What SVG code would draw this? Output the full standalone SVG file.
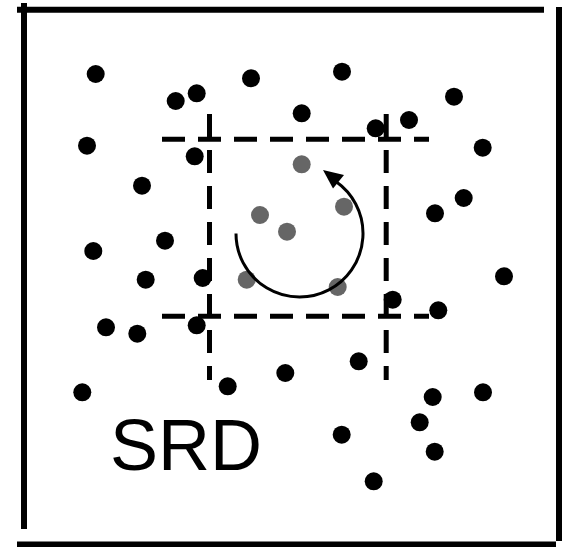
<svg xmlns="http://www.w3.org/2000/svg" width="562" height="547" viewBox="0 0 562 547">
<style>
.frame{stroke:#000;stroke-width:6;fill:none}
.grid{stroke:#000;stroke-width:5;fill:none;stroke-dasharray:23 13}
.b{fill:#000}
.g{fill:#666}
.lbl{font-family:"Liberation Sans",Arial,sans-serif;font-size:72px;fill:#000}
</style>
<rect width="562" height="547" fill="#fff"/>
<g id="frame">
<line class="frame" x1="17" y1="9.7" x2="544" y2="9.7"/>
<line class="frame" x1="24" y1="3" x2="24" y2="529"/>
<line class="frame" x1="559" y1="7" x2="559" y2="541"/>
<line class="frame" x1="17" y1="544.5" x2="556" y2="544.5"/>
</g>
<g id="grid">
<line class="grid" x1="162" y1="139.2" x2="429" y2="139.2"/>
<line class="grid" x1="162" y1="316.3" x2="429" y2="316.3"/>
<line class="grid" x1="209.5" y1="114" x2="209.5" y2="380"/>
<line class="grid" x1="386.2" y1="114" x2="386.2" y2="380"/>
</g>
<g id="black-dots">
<circle class="b" cx="95.7" cy="74" r="9"/>
<circle class="b" cx="251" cy="78.3" r="9"/>
<circle class="b" cx="196.7" cy="93.3" r="9"/>
<circle class="b" cx="175.7" cy="101" r="9"/>
<circle class="b" cx="87" cy="145.7" r="9"/>
<circle class="b" cx="194.7" cy="156.3" r="9"/>
<circle class="b" cx="142" cy="185.7" r="9"/>
<circle class="b" cx="165" cy="240.7" r="9"/>
<circle class="b" cx="93.3" cy="251" r="9"/>
<circle class="b" cx="342" cy="71.7" r="9"/>
<circle class="b" cx="301.7" cy="113.3" r="9"/>
<circle class="b" cx="454" cy="96.7" r="9"/>
<circle class="b" cx="409" cy="120" r="9"/>
<circle class="b" cx="375.7" cy="128.3" r="9"/>
<circle class="b" cx="482.7" cy="147.7" r="9"/>
<circle class="b" cx="463.7" cy="198" r="9"/>
<circle class="b" cx="435" cy="213.3" r="9"/>
<circle class="b" cx="504" cy="276.3" r="9"/>
<circle class="b" cx="145.7" cy="279.7" r="9"/>
<circle class="b" cx="202.7" cy="278" r="9"/>
<circle class="b" cx="106" cy="327.3" r="9"/>
<circle class="b" cx="137.3" cy="333.7" r="9"/>
<circle class="b" cx="196.7" cy="325.3" r="9"/>
<circle class="b" cx="82.3" cy="392.3" r="9"/>
<circle class="b" cx="227.7" cy="386.3" r="9"/>
<circle class="b" cx="392.7" cy="299.7" r="9"/>
<circle class="b" cx="438.3" cy="310.3" r="9"/>
<circle class="b" cx="358.7" cy="361.3" r="9"/>
<circle class="b" cx="285.3" cy="373" r="9"/>
<circle class="b" cx="432.7" cy="397" r="9"/>
<circle class="b" cx="483" cy="392.3" r="9"/>
<circle class="b" cx="419.7" cy="422.3" r="9"/>
<circle class="b" cx="341.7" cy="434.7" r="9"/>
<circle class="b" cx="434.7" cy="451.7" r="9"/>
<circle class="b" cx="373.7" cy="481.3" r="9"/>
</g>
<g id="gray-dots">
<circle class="g" cx="301.7" cy="164.3" r="9"/>
<circle class="g" cx="260" cy="215" r="9"/>
<circle class="g" cx="344" cy="206.7" r="9"/>
<circle class="g" cx="287" cy="231.7" r="9"/>
<circle class="g" cx="246.7" cy="279.7" r="9"/>
<circle class="g" cx="337.7" cy="287" r="9"/>
</g>
<g id="connectors">
<path d="M236,233.5 A63.5,63.5 0 1 0 335.9,181.5" fill="none" stroke="#000" stroke-width="3"/>
<polygon points="323,170 344,175 333,188.5" fill="#000"/>
</g>
<g id="label">
<text class="lbl" x="110" y="470">SRD</text>
</g>
</svg>
